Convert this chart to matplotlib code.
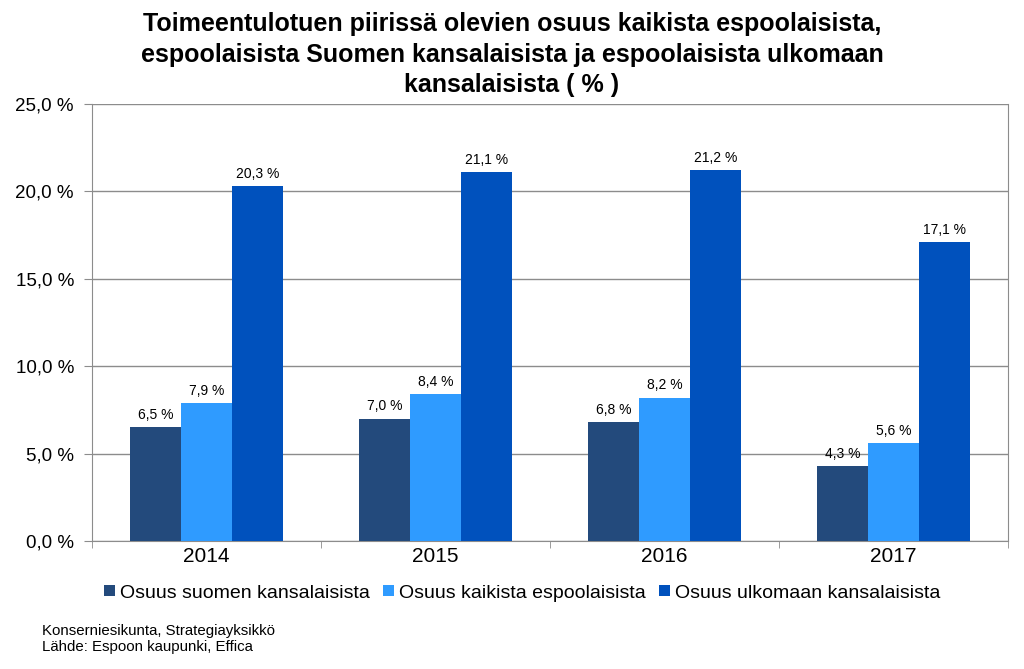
import numpy as np
import matplotlib.pyplot as plt
from matplotlib.ticker import FuncFormatter, FixedLocator

plt.rcParams['font.family'] = ['Liberation Sans', 'DejaVu Sans']

years = ['2014', '2015', '2016', '2017']
series_names = ['Osuus suomen kansalaisista', 'Osuus kaikista espoolaisista',
                'Osuus ulkomaan kansalaisista']
suomen = [6.5, 7.0, 6.8, 4.3]
kaikki = [7.9, 8.4, 8.2, 5.6]
ulkomaan = [20.3, 21.1, 21.2, 17.1]
colors = ['#234A7C', '#2F9BFF', '#0051BD']

fig = plt.figure(figsize=(10.24, 6.69), dpi=100)
ax = fig.add_axes([0.0898, 0.1913, 0.8945, 0.6532])

x = np.arange(len(years))
w = 0.223
for i, (vals, col) in enumerate(zip([suomen, kaikki, ulkomaan], colors)):
    bars = ax.bar(x + (i - 1) * w, vals, w, color=col, label=series_names[i], zorder=3)
    for b, v in zip(bars, vals):
        ax.text(b.get_x() + b.get_width() / 2, v + 0.3, f'{v:.1f} %'.replace('.', ','),
                ha='center', va='bottom', fontsize=10, zorder=4)

ax.set_xlim(-0.5, len(years) - 0.5)
ax.set_ylim(0, 25)
ax.set_yticks(np.arange(0, 25.1, 5))
ax.yaxis.set_major_formatter(FuncFormatter(lambda v, p: f'{v:.1f} %'.replace('.', ',')))
ax.yaxis.grid(True, color='#8c8c8c', linewidth=1, zorder=0)
ax.set_xticks(x)
ax.set_xticklabels(years, fontsize=15)
ax.xaxis.set_minor_locator(FixedLocator(np.arange(-0.5, len(years), 1)))
ax.tick_params(axis='x', which='major', length=0, pad=4)
ax.tick_params(axis='x', which='minor', length=5, color='#8c8c8c', direction='out')
ax.tick_params(axis='y', length=6, color='#8c8c8c', labelsize=13.5, pad=7)
for s in ['left', 'right', 'bottom']:
    ax.spines[s].set_color('#8c8c8c')
ax.spines['top'].set_visible(False)

fig.text(0.5, 0.982, 'Toimeentulotuen piirissä olevien osuus kaikista espoolaisista,\n'
         'espoolaisista Suomen kansalaisista ja espoolaisista ulkomaan\nkansalaisista ( % )',
         ha='center', va='top', fontsize=18, fontweight='bold', linespacing=1.35)

fig.legend(*ax.get_legend_handles_labels(), loc='center', bbox_to_anchor=(0.51, 1 - 593 / 669),
           ncol=3, frameon=False, fontsize=14, handlelength=0.55, handleheight=0.55,
           handletextpad=0.25, columnspacing=0.7)

fig.text(0.041, 0.022, 'Konserniesikunta, Strategiayksikkö\nLähde: Espoon kaupunki, Effica',
         ha='left', va='bottom', fontsize=10.8, linespacing=1.2)

fig.savefig('out.png', dpi=100)
